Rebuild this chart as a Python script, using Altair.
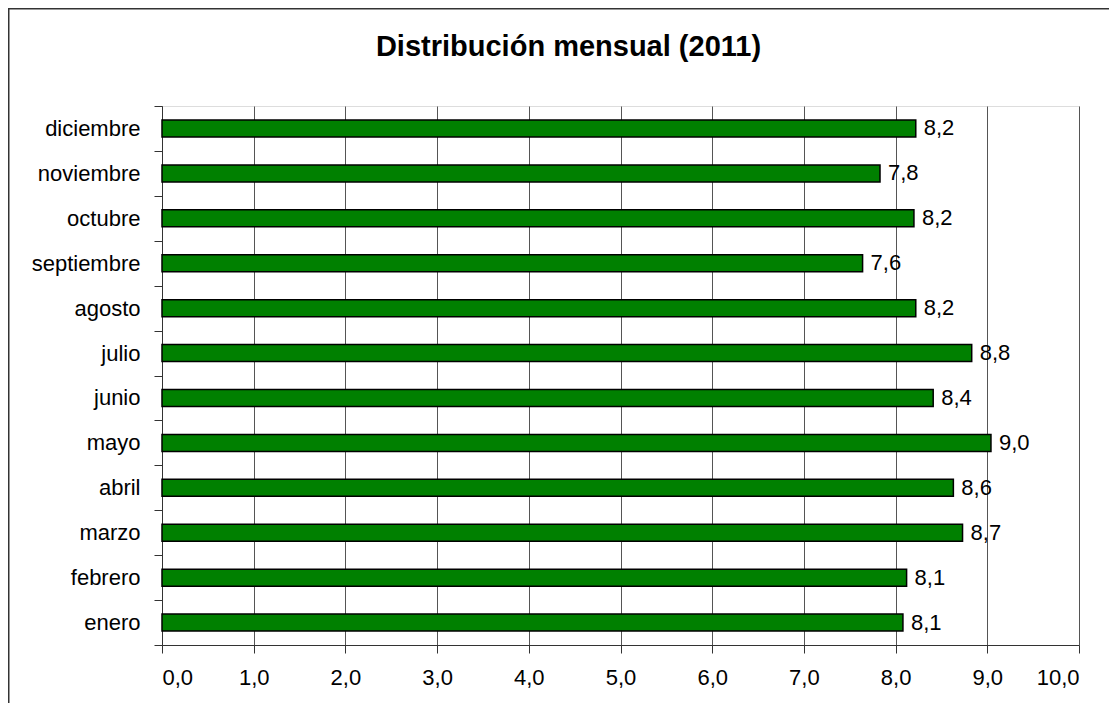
import altair as alt
import pandas as pd

months = ["enero", "febrero", "marzo", "abril", "mayo", "junio",
          "julio", "agosto", "septiembre", "octubre", "noviembre", "diciembre"]
values = [8.08, 8.12, 8.73, 8.63, 9.04, 8.41, 8.83, 8.22, 7.64, 8.20, 7.83, 8.22]
x_ticks = [0, 1, 2, 3, 4, 5, 6, 7, 8, 9, 10]
title_text = "Distribución mensual (2011)"

df = pd.DataFrame({"mes": months, "valor": values})
FONT = "Liberation Sans"

W, H = 917, 539
PAD_L, PAD_T, PAD_R, PAD_B = 154, 98, 30, 58

y_enc = alt.Y("mes:N", sort=list(reversed(months)), title=None,
              scale=alt.Scale(paddingInner=0, paddingOuter=0),
              axis=alt.Axis(tickBand="extent", ticks=True, tickSize=8,
                            tickColor="#333", domainColor="#333",
                            labelFont=FONT, labelFontSize=22, labelColor="#000",
                            labelPadding=14, grid=False))
x_enc = alt.X("valor:Q", title=None,
              scale=alt.Scale(domain=[0, 10], nice=False, zero=True),
              axis=alt.Axis(values=x_ticks, tickSize=8, tickColor="#333",
                            domainColor="#333", grid=True, gridColor="#555",
                            gridWidth=1, labelFont=FONT, labelFontSize=22,
                            labelColor="#000", labelPadding=14,
                            labelExpr="replace(format(datum.value, '.1f'), '.', ',')"))

base = alt.Chart(df)

border = base.mark_rect(fill=None, stroke="#333", strokeWidth=1.5, clip=False).encode(
    x=alt.value(-153.25), x2=alt.value(W + PAD_R + 20),
    y=alt.value(-97.25), y2=alt.value(H + PAD_B + 20)
).transform_filter("datum.mes == 'enero'")

bars = base.mark_bar(size=17, color="#008000", stroke="#000", strokeWidth=1.5).encode(
    x=x_enc, y=y_enc
)

labels = base.transform_calculate(
    lab="replace(format(datum.valor, '.1f'), '.', ',')"
).mark_text(align="left", baseline="middle", dx=8, font=FONT, fontSize=22,
            color="#000").encode(
    x="valor:Q", y=alt.Y("mes:N", sort=list(reversed(months))), text="lab:N"
)

title = alt.Chart(pd.DataFrame({"t": [title_text]})).mark_text(
    font=FONT, fontSize=29, fontWeight="bold", color="#000",
    align="center", baseline="alphabetic"
).encode(text="t:N", x=alt.value(406.5), y=alt.value(-50))

chart = alt.layer(border, bars, labels, title).properties(
    width=W, height=H,
    autosize=alt.AutoSizeParams(type="none"),
    padding={"left": PAD_L, "top": PAD_T, "right": PAD_R, "bottom": PAD_B},
).configure_view(stroke="#c0c0c0", strokeWidth=1.5).configure(background="white")

chart.save("out.html", embed_options={"renderer": "svg", "actions": False})
